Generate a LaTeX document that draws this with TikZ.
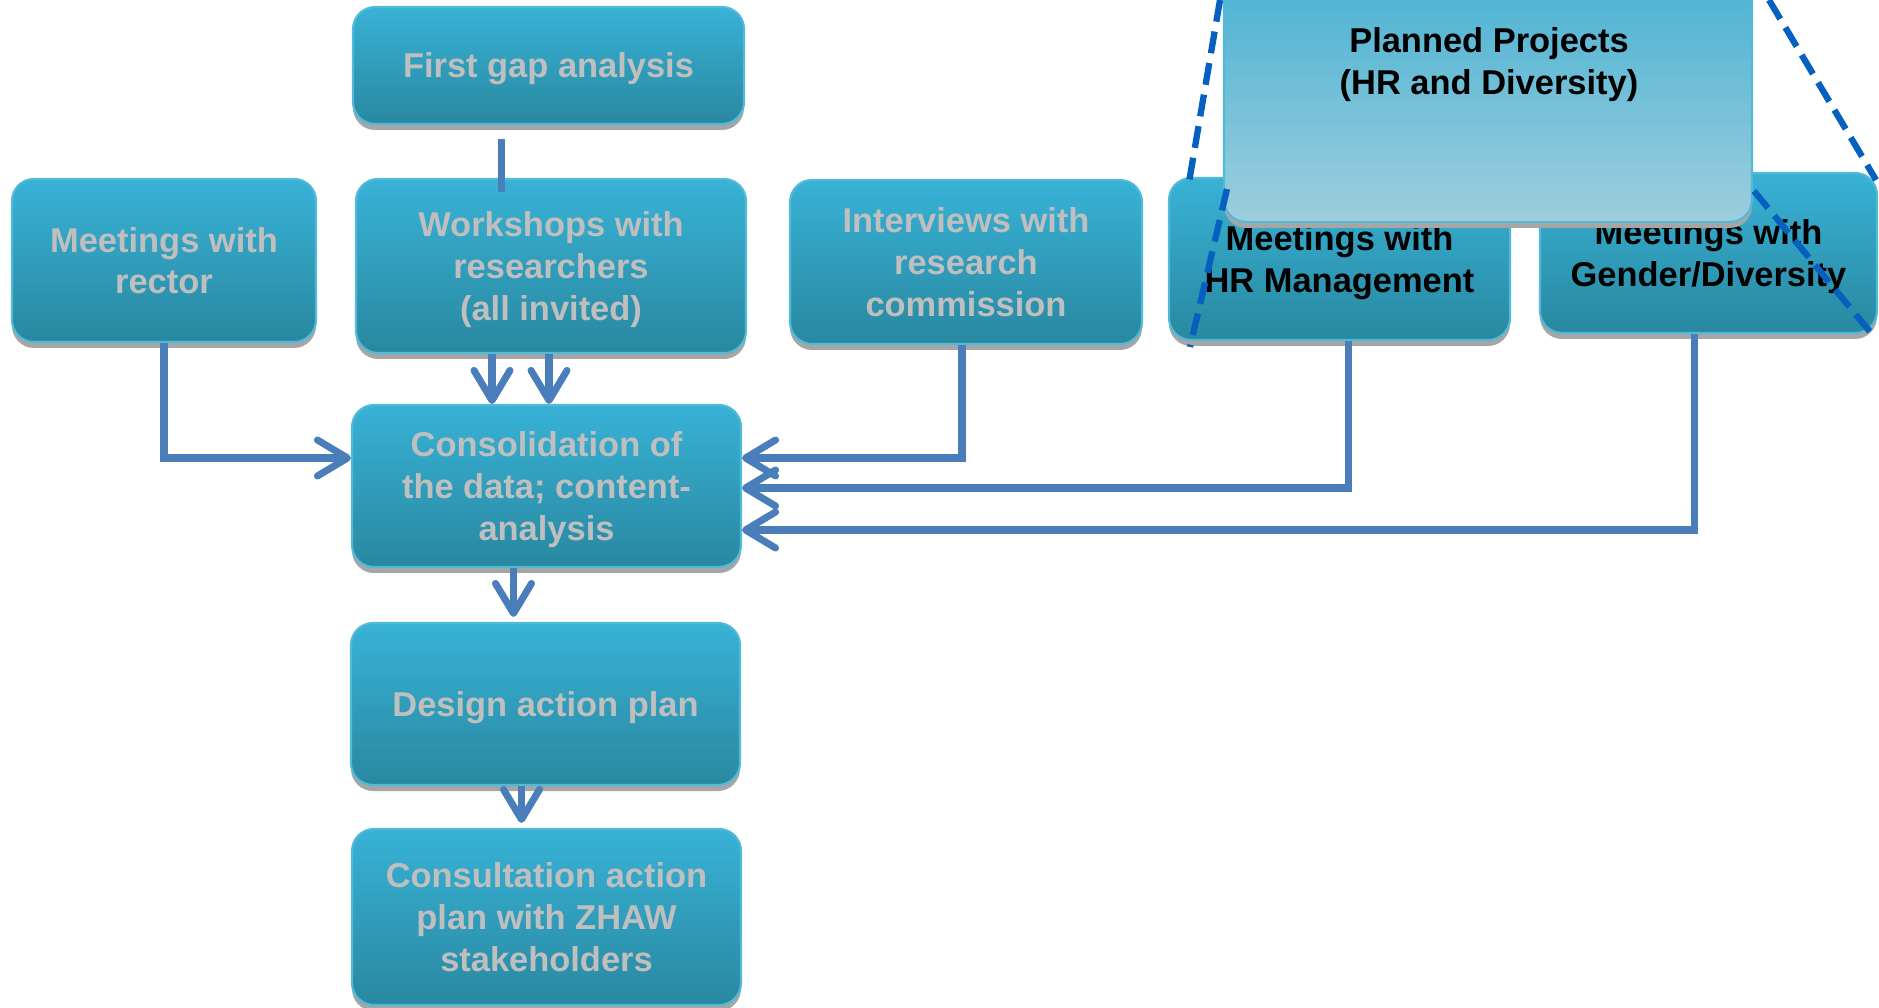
\documentclass[tikz,border=0pt]{standalone}
\usepackage{fontspec}
\setmainfont{Liberation Sans}
\usetikzlibrary{arrows.meta,shadows,positioning}
\definecolor{boxtop}{RGB}{56, 178, 214}
\definecolor{boxbottom}{RGB}{41, 136, 160}
\definecolor{boxedge}{RGB}{80, 186, 216}
\definecolor{boxshadow}{RGB}{166, 166, 166}
\definecolor{labelgray}{RGB}{191, 191, 191}
\definecolor{linkblue}{RGB}{74, 126, 187}
\definecolor{dashblue}{RGB}{6, 96, 192}
\definecolor{plantop}{RGB}{60, 178, 216}
\definecolor{planbottom}{RGB}{156, 211, 227}
\tikzset{
  stage/.style={rounded corners=2.2mm, draw=boxedge, line width=0.6pt,
    top color=boxtop, bottom color=boxbottom,
    drop shadow={shadow xshift=0mm, shadow yshift=-0.6mm, fill=boxshadow, opacity=1},
    inner sep=0pt, align=center, text=labelgray, text depth=0pt,
    font=\bfseries\fontsize{9.8}{11.9}\selectfont},
  darkstage/.style={stage, text=black},
  planbox/.style={rounded corners=2.2mm, draw=boxedge, line width=0.6pt,
    top color=plantop, bottom color=planbottom, fill opacity=0.9,
    drop shadow={shadow xshift=0mm, shadow yshift=-0.6mm, fill=boxshadow, opacity=1}},
  plantext/.style={align=center, text=black, font=\bfseries\fontsize{9.8}{11.9}\selectfont},
  link/.style={draw=linkblue, line width=2pt},
  flow/.style={link, -{Straight Barb[length=3mm, width=3.6mm, round]}},
  callout/.style={draw=dashblue, line width=1.8pt, dash pattern=on 2.2mm off 1mm}
}
\begin{document}
\begin{tikzpicture}
  \useasboundingbox (0,0) rectangle (18.79,-10.08);

  \node[stage,     minimum width=3.91cm, minimum height=1.17cm] (gap)      at ( 5.485,-0.655) {First gap analysis};
  \node[stage,     minimum width=3.04cm, minimum height=1.63cm] (rector)   at ( 1.640,-2.605) {Meetings with\\rector};
  \node[stage,     minimum width=3.90cm, minimum height=1.74cm] (work)     at ( 5.510,-2.660) {Workshops with\\researchers\\(all invited)};
  \node[stage,     minimum width=3.52cm, minimum height=1.64cm] (inter)    at ( 9.660,-2.620) {Interviews with\\research\\commission};
  \node[darkstage, minimum width=3.41cm, minimum height=1.62cm] (hr)       at (13.395,-2.590) {Meetings with\\HR Management};
  \node[darkstage, minimum width=3.37cm, minimum height=1.60cm] (gender)   at (17.085,-2.530) {Meetings with\\Gender/Diversity};
  \node[stage,     minimum width=3.89cm, minimum height=1.62cm] (cons)     at ( 5.465,-4.860) {Consolidation of\\the data; content-\\analysis};
  \node[stage,     minimum width=3.89cm, minimum height=1.62cm] (design)   at ( 5.455,-7.040) {Design action plan};
  \node[stage,     minimum width=3.89cm, minimum height=1.76cm] (consult)  at ( 5.465,-9.170) {Consultation action\\plan with ZHAW\\stakeholders};

  \draw[link] ([xshift=-4.7mm,yshift=-1.4mm]gap.south) -- ([xshift=-4.7mm,yshift=-1.4mm]gap.south |- work.north);
  \draw[flow] (rector.south) |- ([yshift=2.8mm]cons.west);
  \draw[flow] ([xshift=-5.9mm]work.south) -- ([xshift=-5.9mm]work.south |- cons.north);
  \draw[flow] ([xshift=-0.2mm]work.south) -- ([xshift=-0.2mm]work.south |- cons.north);
  \draw[flow] ([xshift=-0.4mm]inter.south) |- ([yshift=2.8mm]cons.east);
  \draw[flow] ([xshift=0.9mm]hr.south) |- ([yshift=-0.2mm]cons.east);
  \draw[flow] ([xshift=-1.45mm]gender.south) |- ([yshift=-4.4mm]cons.east);
  \draw[flow, shorten >=0.5mm] ([xshift=-3.3mm]cons.south) -- ([xshift=-3.3mm]cons.south |- design.north);
  \draw[flow, shorten >=0.5mm] ([xshift=-2.4mm]design.south) -- ([xshift=-2.4mm]design.south |- consult.north);

  \node[planbox, minimum width=5.28cm, minimum height=2.6cm, anchor=south] (plan) at (14.88,-2.23) {};
  \node[plantext] (plantitle) at (14.89,-0.645) {Planned Projects\\(HR and Diversity)};

  \coordinate (ltop) at (12.20, 0.00);
  \coordinate (lmid) at (11.88,-1.88);
  \coordinate (lup)  at (12.27,-1.89);
  \coordinate (llow) at (11.90,-3.47);
  \coordinate (rtop) at (17.69, 0.00);
  \coordinate (rmid) at (18.76,-1.80);
  \coordinate (rup)  at (17.54,-1.91);
  \coordinate (rlow) at (18.71,-3.33);
  \draw[callout] (ltop) -- (lmid);
  \draw[callout] (lup)  -- (llow);
  \draw[callout] (rtop) -- (rmid);
  \draw[callout] (rup)  -- (rlow);
\end{tikzpicture}
\end{document}
